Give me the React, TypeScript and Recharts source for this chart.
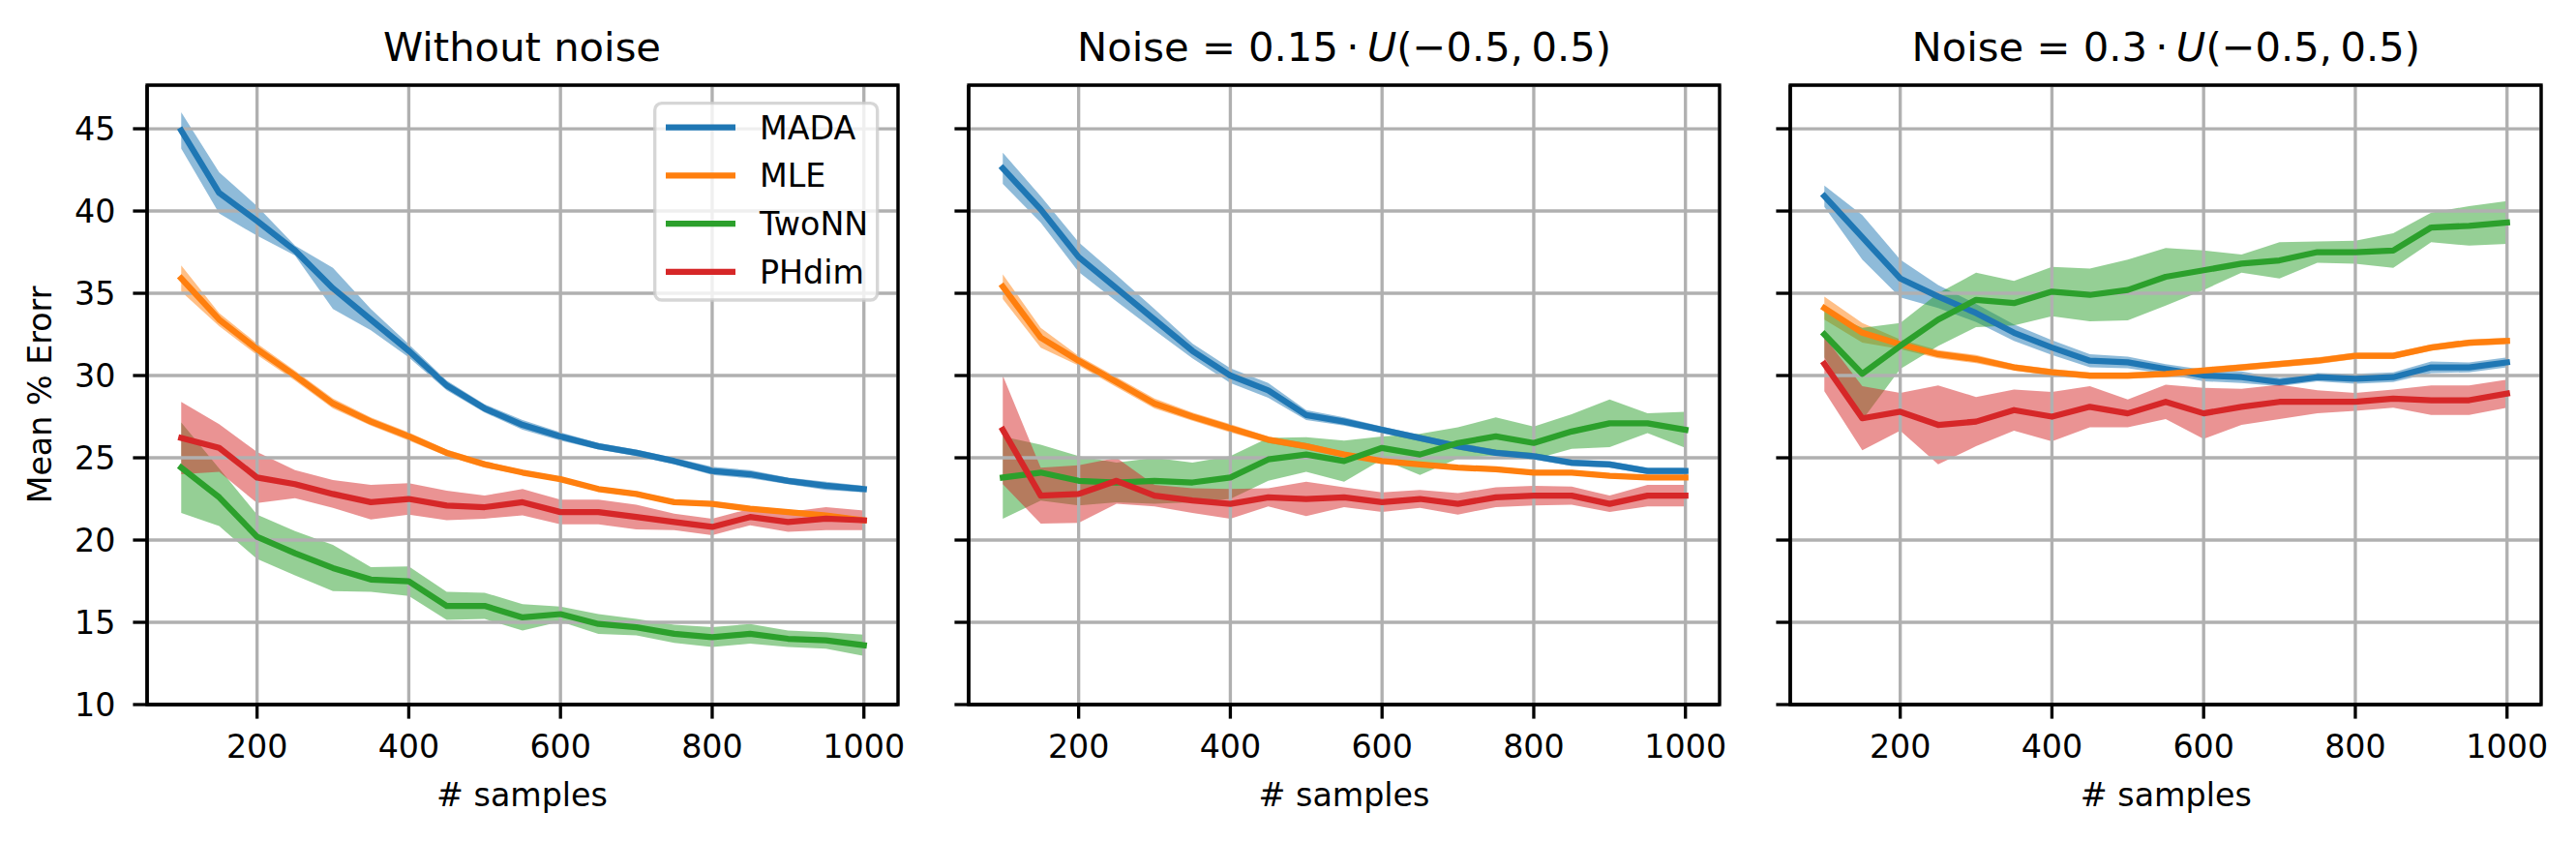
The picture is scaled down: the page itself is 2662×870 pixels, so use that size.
import React from 'react';
import { ComposedChart, Line, Area, XAxis, YAxis, CartesianGrid, Legend, ReferenceArea } from 'recharts';

const samples = [100, 150, 200, 250, 300, 350, 400, 450, 500, 550, 600, 650, 700, 750, 800, 850, 900, 950, 1000];
const xTicks = [200, 400, 600, 800, 1000];
const yTicks = [10, 15, 20, 25, 30, 35, 40, 45];
const methods = ['MADA', 'MLE', 'TwoNN', 'PHdim'];
const colors = ['#1f77b4', '#ff7f0e', '#2ca02c', '#d62728'];
const titles = ['Without noise', '0.15', '0.3'];

// Panel 1: without noise
const madaMean1 = [44.9, 41.1, 39.4, 37.6, 35.3, 33.4, 31.5, 29.4, 28.0, 27.0, 26.3, 25.7, 25.3, 24.8, 24.2, 24.0, 23.6, 23.3, 23.1];
const madaStd1 = [1.1, 1.25, 0.9, 0.3, 1.25, 0.65, 0.4, 0.3, 0.25, 0.3, 0.25, 0.2, 0.2, 0.2, 0.25, 0.25, 0.2, 0.25, 0.2];
const mleMean1 = [35.9, 33.4, 31.6, 30.0, 28.3, 27.2, 26.3, 25.3, 24.6, 24.1, 23.7, 23.1, 22.8, 22.3, 22.2, 21.9, 21.7, 21.5, 21.2];
const mleStd1 = [0.8, 0.4, 0.35, 0.3, 0.3, 0.25, 0.25, 0.2, 0.2, 0.15, 0.15, 0.15, 0.15, 0.15, 0.15, 0.15, 0.15, 0.15, 0.15];
const twonnMean1 = [24.4, 22.6, 20.2, 19.2, 18.3, 17.6, 17.5, 16.0, 16.0, 15.3, 15.5, 14.9, 14.7, 14.3, 14.1, 14.3, 14.0, 13.9, 13.6];
const twonnStd1 = [2.75, 1.75, 1.35, 1.35, 1.4, 0.75, 0.9, 0.85, 0.8, 0.8, 0.45, 0.6, 0.5, 0.55, 0.6, 0.6, 0.5, 0.5, 0.65];
const phMean1 = [26.2, 25.6, 23.8, 23.4, 22.8, 22.3, 22.5, 22.1, 22.0, 22.3, 21.7, 21.7, 21.4, 21.1, 20.8, 21.4, 21.1, 21.3, 21.2];
const phStd1 = [2.2, 1.45, 1.55, 0.85, 0.85, 1.05, 0.95, 0.9, 0.7, 0.8, 0.75, 0.75, 0.75, 0.5, 0.5, 0.5, 0.6, 0.7, 0.6];

// Panel 2: noise 0.15
const madaMean2 = [42.6, 40.1, 37.2, 35.3, 33.4, 31.5, 30.0, 29.1, 27.6, 27.2, 26.7, 26.2, 25.7, 25.3, 25.1, 24.7, 24.6, 24.2, 24.2];
const madaStd2 = [0.95, 0.8, 0.9, 0.8, 0.65, 0.45, 0.45, 0.45, 0.3, 0.25, 0.2, 0.2, 0.2, 0.2, 0.2, 0.2, 0.2, 0.2, 0.2];
const mleMean2 = [35.4, 32.3, 30.9, 29.6, 28.3, 27.5, 26.8, 26.1, 25.7, 25.2, 24.8, 24.6, 24.4, 24.3, 24.1, 24.1, 23.9, 23.8, 23.8];
const mleStd2 = [0.75, 0.6, 0.3, 0.3, 0.3, 0.25, 0.25, 0.2, 0.2, 0.15, 0.15, 0.15, 0.15, 0.15, 0.15, 0.15, 0.15, 0.15, 0.15];
const twonnMean2 = [23.8, 24.1, 23.6, 23.5, 23.6, 23.5, 23.8, 24.9, 25.2, 24.8, 25.6, 25.2, 25.9, 26.3, 25.9, 26.6, 27.1, 27.1, 26.7];
const twonnStd2 = [2.5, 1.7, 1.5, 1.2, 1.4, 1.2, 1.3, 1.3, 1.05, 1.25, 0.7, 1.25, 0.95, 1.15, 1.0, 1.05, 1.45, 0.6, 1.1];
const phMean2 = [26.7, 22.7, 22.8, 23.6, 22.7, 22.4, 22.2, 22.6, 22.5, 22.6, 22.3, 22.5, 22.2, 22.6, 22.7, 22.7, 22.2, 22.7, 22.7];
const phStd2 = [3.3, 1.7, 1.75, 1.4, 0.65, 0.75, 0.9, 0.55, 1.05, 0.6, 0.6, 0.55, 0.65, 0.6, 0.6, 0.55, 0.5, 0.65, 0.65];

// Panel 3: noise 0.3
const madaMean3 = [40.9, 38.4, 35.9, 34.8, 33.8, 32.6, 31.7, 30.9, 30.8, 30.4, 30.0, 29.9, 29.6, 29.9, 29.8, 29.9, 30.5, 30.5, 30.8];
const madaStd3 = [0.65, 1.35, 1.15, 0.7, 0.55, 0.5, 0.45, 0.4, 0.35, 0.3, 0.35, 0.35, 0.25, 0.25, 0.3, 0.3, 0.35, 0.3, 0.3];
const mleMean3 = [34.1, 32.6, 31.9, 31.3, 31.0, 30.5, 30.2, 30.0, 30.0, 30.1, 30.3, 30.5, 30.7, 30.9, 31.2, 31.2, 31.7, 32.0, 32.1];
const mleStd3 = [0.7, 0.6, 0.3, 0.25, 0.25, 0.2, 0.2, 0.2, 0.2, 0.2, 0.2, 0.2, 0.2, 0.2, 0.2, 0.2, 0.2, 0.2, 0.2];
const twonnMean3 = [32.5, 30.1, 31.8, 33.4, 34.6, 34.4, 35.1, 34.9, 35.2, 36.0, 36.4, 36.8, 37.0, 37.5, 37.5, 37.6, 39.0, 39.1, 39.3];
const twonnStd3 = [1.4, 2.8, 1.4, 1.6, 1.65, 1.35, 1.5, 1.6, 1.85, 1.75, 1.2, 0.55, 1.1, 0.65, 0.7, 1.05, 0.9, 1.2, 1.3];
const phMean3 = [30.7, 27.4, 27.8, 27.0, 27.2, 27.9, 27.5, 28.1, 27.7, 28.4, 27.7, 28.1, 28.4, 28.4, 28.4, 28.6, 28.5, 28.5, 28.9];
const phStd3 = [1.65, 1.95, 1.15, 2.4, 1.5, 1.25, 1.5, 1.25, 0.85, 1.05, 1.55, 1.1, 1.05, 0.7, 0.55, 0.55, 0.9, 0.9, 0.85];

const FONT = 'DejaVu Sans';
const TICK_FS = 33.3;
const TITLE_FS = 41.7;
const LW = 3.33;
const YW = 140;
const PW = 776;
const MR = 10;
const PLOT_TOP = 88;
const XH = 142;
const H = 870;
const panelLefts = [151.5, 1001, 1850.3];

function buildRows(means: number[][], stds: number[][]) {
  return samples.map((x, i) => {
    const row: any = { x };
    means.forEach((m, k) => {
      row['m' + k] = m[i];
      row['b' + k] = [m[i] - stds[k][i], m[i] + stds[k][i]];
    });
    return row;
  });
}

const panelRows = [
  buildRows([madaMean1, mleMean1, twonnMean1, phMean1], [madaStd1, mleStd1, twonnStd1, phStd1]),
  buildRows([madaMean2, mleMean2, twonnMean2, phMean2], [madaStd2, mleStd2, twonnStd2, phStd2]),
  buildRows([madaMean3, mleMean3, twonnMean3, phMean3], [madaStd3, mleStd3, twonnStd3, phStd3]),
];

const LegendBox = () => (
  <svg width={236} height={210} style={{ display: 'block', overflow: 'visible' }}>
    <rect x={1.7} y={1.7} width={230} height={203.3} rx={7} ry={7}
      fill="rgba(255,255,255,0.8)" stroke="rgba(204,204,204,0.8)" strokeWidth={LW} />
    {methods.map((m, k) => {
      const y = 26.7 + k * 49.7;
      return (
        <g key={m}>
          <line x1={13} x2={85} y1={y} y2={y} stroke={colors[k]} strokeWidth={6.25} strokeLinecap="butt" />
          <text x={110} y={y + 11.8} fontSize={TICK_FS} fontFamily={FONT} fill="#000">{m}</text>
        </g>
      );
    })}
  </svg>
);

const EmptyTick = () => <g />;

function Panel({ idx }: { idx: number }) {
  const left = panelLefts[idx] - YW;
  return (
    <div style={{ position: 'absolute', left, top: 0 }}>
      <ComposedChart width={YW + PW + MR} height={H} data={panelRows[idx]}
        margin={{ top: PLOT_TOP, right: MR, bottom: 0, left: 0 }}>
        {methods.map((m, k) => (
          <Area key={'a' + k} dataKey={'b' + k} type="linear" fill={colors[k]} fillOpacity={0.5}
            stroke="none" dot={false} activeDot={false} isAnimationActive={false} />
        ))}
        <CartesianGrid stroke="#b0b0b0" strokeWidth={LW} fill="none" {...({ zIndex: 150 } as any)} />
        {methods.map((m, k) => (
          <Line key={'l' + k} dataKey={'m' + k} type="linear" stroke={colors[k]} strokeWidth={6.25}
            dot={false} activeDot={false} isAnimationActive={false}
            strokeLinejoin="round" strokeLinecap="square" />
        ))}
        <XAxis dataKey="x" type="number" domain={[55, 1045]} ticks={xTicks} allowDataOverflow
          interval={0} height={XH} tickSize={14.6} tickMargin={16.8}
          stroke="#000" strokeWidth={LW}
          axisLine={{ stroke: '#000', strokeWidth: LW }}
          tickLine={{ stroke: '#000', strokeWidth: LW }}
          tick={{ fontSize: TICK_FS, fill: '#000', fontFamily: FONT }} />
        <YAxis type="number" domain={[10, 47.65]} ticks={yTicks} allowDataOverflow
          interval={0} width={YW} tickSize={14.6} tickMargin={18}
          stroke="#000" strokeWidth={LW}
          axisLine={{ stroke: '#000', strokeWidth: LW }}
          tickLine={{ stroke: '#000', strokeWidth: LW }}
          tick={idx === 0 ? { fontSize: TICK_FS, fill: '#000', fontFamily: FONT } : EmptyTick} />
        <ReferenceArea x1={55} x2={1045} y1={10} y2={47.65} fill="none" stroke="#000"
          strokeWidth={LW} ifOverflow="visible" {...({ zIndex: 700 } as any)} />
        {idx === 0 && (
          <Legend layout="vertical" align="center" verticalAlign="middle"
            wrapperStyle={{ left: 675 - left, top: 105, width: 236, height: 210 }}
            content={() => <LegendBox />} />
        )}
      </ComposedChart>
    </div>
  );
}

function Title({ idx, cx }: { idx: number; cx: number }) {
  if (idx === 0) {
    return <text x={cx} y={63.3} textAnchor="middle" fontSize={TITLE_FS} fontFamily={FONT} fill="#000">{titles[0]}</text>;
  }
  return (
    <text x={cx} y={63.3} textAnchor="middle" fontSize={TITLE_FS} fontFamily={FONT} fill="#000">
      {'Noise = ' + titles[idx] + '\u2009\u00b7\u2009'}
      <tspan fontStyle="italic">U</tspan>
      {'(\u22120.5,\u20090.5)'}
    </text>
  );
}

export default function App() {
  return (
    <div style={{ position: 'absolute', left: 0, top: 0, width: 2662, height: 870, background: '#fff' }}>
      {[0, 1, 2].map((i) => <Panel key={i} idx={i} />)}
      <svg width={2662} height={870} style={{ position: 'absolute', left: 0, top: 0, pointerEvents: 'none' }}>
        {panelLefts.map((l, i) => (
          <g key={i}>
            <Title idx={i} cx={l + PW / 2} />
            <text x={l + PW / 2} y={833.3} textAnchor="middle" fontSize={TICK_FS} fontFamily={FONT} fill="#000"># samples</text>
          </g>
        ))}
        <text x={53.3} y={408} transform="rotate(-90 53.3 408)" textAnchor="middle" fontSize={TICK_FS}
          fontFamily={FONT} fill="#000">Mean % Erorr</text>
      </svg>
    </div>
  );
}
